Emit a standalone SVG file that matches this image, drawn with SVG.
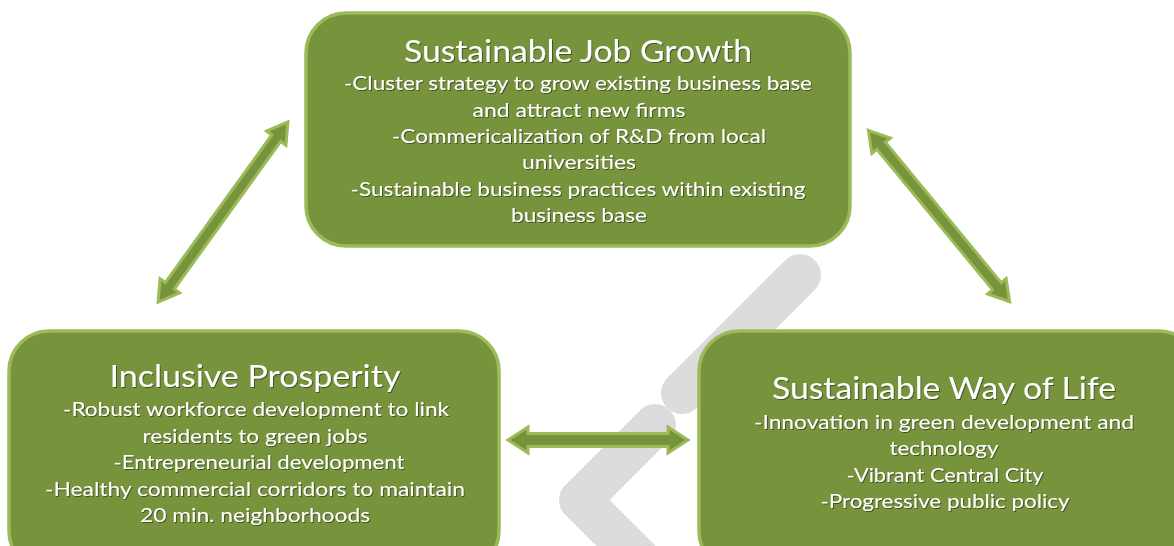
<svg xmlns="http://www.w3.org/2000/svg" width="1174" height="546" viewBox="0 0 1174 546">
<defs>
<style>
.box{fill:#77933c;stroke:#9bbb59;stroke-width:3.5}
.arr{fill:#77933c;stroke:#9bbb59;stroke-width:3;stroke-linejoin:miter}
.band{fill:none;stroke:#dcdcdc;stroke-width:42;stroke-linecap:round;stroke-linejoin:round}
text{font-family:Lato,"Open Sans","Liberation Sans",sans-serif;fill:#ffffff;text-anchor:middle;filter:url(#sh)}
.t{font-size:31px}
.b{font-size:20px}
</style>
<filter id="sh" x="-5%" y="-20%" width="110%" height="150%">
<feDropShadow dx="1" dy="1" stdDeviation="0.6" flood-color="#1a2508" flood-opacity="0.6"/>
</filter>
</defs>
<rect width="1174" height="546" fill="#ffffff"/>
<g id="background">
<path class="band" d="M800 275 L682 393"/>
<path class="band" d="M655 425 L580 500 L652 572"/>
</g>
<g id="connectors">
<path class="arr" transform="translate(223,212) rotate(-54.2)" d="M-111 0 L-91 -12 L-91 -5.5 L91 -5.5 L91 -12 L111 0 L91 12 L91 5.5 L-91 5.5 L-91 12 Z"/>
<path class="arr" transform="translate(939,216) rotate(50.5)" d="M-111 0 L-91 -12 L-91 -5.5 L91 -5.5 L91 -12 L111 0 L91 12 L91 5.5 L-91 5.5 L-91 12 Z"/>
<path class="arr" transform="translate(598,440)" d="M-90 0 L-70 -13 L-70 -6.5 L70 -6.5 L70 -13 L90 0 L70 13 L70 6.5 L-70 6.5 L-70 13 Z"/>
</g>
<g id="node-job-growth">
<rect class="box" x="306" y="13" width="544" height="233" rx="40"/>
<text class="t" x="578" y="62" textLength="348" lengthAdjust="spacingAndGlyphs">Sustainable Job Growth</text>
<text class="b" x="578" y="90" textLength="468" lengthAdjust="spacingAndGlyphs">-Cluster strategy to grow existing business base</text>
<text class="b" x="579" y="117" textLength="213" lengthAdjust="spacingAndGlyphs">and attract new firms</text>
<text class="b" x="579" y="143" textLength="374" lengthAdjust="spacingAndGlyphs">-Commericalization of R&amp;D from local</text>
<text class="b" x="579" y="169" textLength="114" lengthAdjust="spacingAndGlyphs">universities</text>
<text class="b" x="578" y="196" textLength="455" lengthAdjust="spacingAndGlyphs">-Sustainable business practices within existing</text>
<text class="b" x="579" y="222" textLength="136" lengthAdjust="spacingAndGlyphs">business base</text>
</g>
<g id="node-inclusive-prosperity">
<rect class="box" x="9" y="331" width="490" height="240" rx="40"/>
<text class="t" x="255" y="387" textLength="291" lengthAdjust="spacingAndGlyphs">Inclusive Prosperity</text>
<text class="b" x="256" y="416" textLength="386" lengthAdjust="spacingAndGlyphs">-Robust workforce development to link</text>
<text class="b" x="255" y="443" textLength="225" lengthAdjust="spacingAndGlyphs">residents to green jobs</text>
<text class="b" x="259" y="469" textLength="291" lengthAdjust="spacingAndGlyphs">-Entrepreneurial development</text>
<text class="b" x="255" y="496" textLength="420" lengthAdjust="spacingAndGlyphs">-Healthy commercial corridors to maintain</text>
<text class="b" x="255" y="522" textLength="230" lengthAdjust="spacingAndGlyphs">20 min. neighborhoods</text>
</g>
<g id="node-way-of-life">
<rect class="box" x="699" y="331" width="500" height="240" rx="40"/>
<text class="t" x="944" y="399" textLength="344" lengthAdjust="spacingAndGlyphs">Sustainable Way of Life</text>
<text class="b" x="944" y="429" textLength="380" lengthAdjust="spacingAndGlyphs">-Innovation in green development and</text>
<text class="b" x="944" y="455" textLength="109" lengthAdjust="spacingAndGlyphs">technology</text>
<text class="b" x="945" y="482" textLength="197" lengthAdjust="spacingAndGlyphs">-Vibrant Central City</text>
<text class="b" x="945" y="508" textLength="249" lengthAdjust="spacingAndGlyphs">-Progressive public policy</text>
</g>
</svg>
